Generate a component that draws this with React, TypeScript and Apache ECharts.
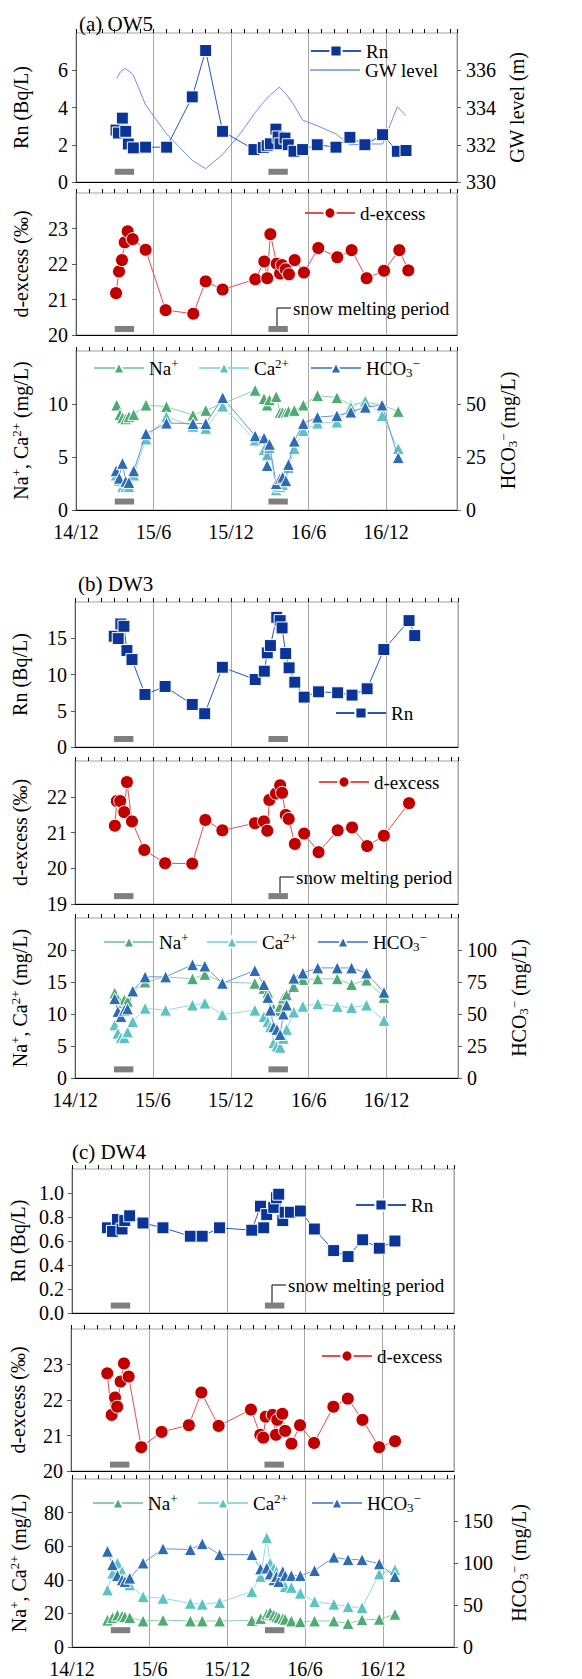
import { useEffect, useRef } from "react";
import * as echarts from "echarts";

const FONT = "Liberation Serif";
const XMAX = 29.5; // months after 2014-12-01

// x = months since 2014-12-01, y = value
const ow5Rn = [[3.1,2.79],[3.28,2.63],[3.59,3.43],[3.85,2.72],[4.05,2.04],[4.44,1.83],[5.39,1.87],[7.02,1.87],[9.0,4.57],[10.04,7.06],[11.35,2.72],[13.78,1.74],[14.5,1.85],[14.8,1.95],[15.05,2.05],[15.48,2.84],[15.65,2.42],[15.8,2.05],[16.18,2.36],[16.44,2.0],[16.88,1.65],[17.55,1.74],[18.68,2.0],[20.13,1.87],[21.21,2.4],[22.37,2.0],[23.74,2.54],[24.88,1.65],[25.55,1.69]];
const ow5Gw = [[3.15,335.56],[3.45,335.92],[3.79,336.1],[4.17,335.92],[4.44,335.74],[5.39,334.14],[5.99,333.56],[7.02,332.58],[9.0,331.16],[10.04,330.71],[11.35,331.48],[12.7,332.58],[13.88,333.73],[14.5,334.27],[14.97,334.62],[15.74,335.1],[16.31,334.68],[16.83,334.18],[17.55,333.32],[18.68,333.02],[20.13,332.58],[21.21,331.99],[22.37,332.04],[23.74,332.04],[24.88,334.04],[25.55,333.56]];
const ow5Dex = [[3.1,21.18],[3.33,21.79],[3.56,22.11],[3.77,22.61],[4.0,22.92],[4.39,22.7],[5.39,22.4],[6.94,20.7],[9.08,20.6],[10.04,21.51],[11.35,21.28],[13.88,21.57],[14.58,22.07],[14.81,21.6],[15.05,22.84],[15.54,22.01],[15.8,21.73],[15.95,21.97],[16.23,21.85],[16.49,21.71],[16.93,22.11],[17.65,21.76],[18.76,22.45],[20.23,22.19],[21.34,22.39],[22.5,21.6],[23.85,21.81],[25.03,22.39],[25.73,21.82]];
const ow5Na = [[3.15,9.9],[3.4,9.0],[3.6,8.7],[3.85,8.6],[4.1,8.8],[4.47,9.0],[5.42,9.9],[7.0,9.75],[9.06,8.95],[10.05,9.4],[13.87,11.3],[14.56,10.5],[14.8,9.9],[14.98,10.4],[15.5,10.7],[15.8,9.2],[16.0,9.2],[16.25,9.2],[16.45,9.3],[16.9,9.4],[17.6,9.9],[18.7,10.8],[20.2,10.6],[21.28,9.9],[22.4,10.2],[23.7,9.9],[24.95,9.3]];
const ow5Ca = [[3.1,3.3],[3.35,2.8],[3.6,2.2],[3.85,2.2],[4.1,2.2],[4.47,3.3],[5.42,6.7],[7.0,8.8],[9.06,7.9],[10.05,7.7],[11.36,9.8],[13.87,6.6],[14.56,5.7],[14.8,5.2],[14.98,5.9],[15.5,1.9],[15.8,2.2],[16.0,2.4],[16.25,2.9],[16.45,4.0],[16.9,5.8],[17.6,7.5],[18.7,8.2],[20.2,8.3],[21.28,9.7],[22.4,10.3],[23.7,8.9],[24.95,5.8]];
const ow5Hco3 = [[3.1,18.5],[3.35,15],[3.6,22],[3.85,13.5],[4.1,13],[4.47,18.5],[5.42,36],[7.0,41],[9.06,40.8],[10.05,40.8],[11.36,53],[13.87,35],[14.56,34],[14.8,21],[14.98,31],[15.5,12.5],[15.8,14.8],[16.0,15.5],[16.25,13.8],[16.45,21.5],[16.9,32.5],[17.6,40.8],[18.7,43.8],[20.2,44.5],[21.28,46.2],[22.4,48.5],[23.7,49.5],[24.95,24.7]];

const dw3Rn = [[3.02,15.28],[3.33,14.95],[3.53,16.97],[3.77,16.65],[4.0,13.3],[4.39,12.06],[5.39,7.25],[6.94,8.35],[9.03,5.87],[9.99,4.59],[11.35,11.0],[13.88,9.31],[14.58,10.46],[14.81,12.98],[15.05,13.99],[15.54,17.89],[15.8,17.43],[15.95,16.42],[16.23,12.89],[16.49,10.92],[16.93,8.94],[17.65,6.88],[18.76,7.61],[20.23,7.48],[21.34,7.16],[22.5,8.03],[23.79,13.44],[25.73,17.43],[26.17,15.37]];
const dw3Dex = [[3.07,21.19],[3.22,21.88],[3.48,21.88],[3.79,21.57],[4.0,22.41],[4.39,21.31],[5.34,20.51],[6.94,20.14],[9.03,20.13],[10.04,21.35],[11.35,21.06],[13.86,21.26],[14.55,21.31],[14.81,21.05],[14.97,21.91],[15.48,22.09],[15.8,22.32],[15.95,22.11],[16.23,21.49],[16.46,21.38],[16.93,20.68],[17.65,20.97],[18.76,20.45],[20.23,21.06],[21.34,21.14],[22.5,20.62],[23.79,20.91],[25.73,21.82]];
const dw3Na = [[3.06,13.3],[3.3,12.3],[3.55,11.8],[3.8,12.2],[4.05,12.0],[4.45,13.5],[5.4,15.0],[6.98,15.8],[9.05,15.5],[10.0,16.2],[11.35,15.0],[13.85,14.8],[14.55,14.0],[14.85,13.4],[15.3,10.8],[15.55,10.5],[15.8,11.2],[16.05,12.5],[16.3,13.0],[16.85,14.3],[17.55,15.4],[18.7,15.5],[20.2,15.5],[21.3,14.6],[22.45,15.3],[23.8,12.6]];
const dw3Ca = [[3.06,8.3],[3.3,7.0],[3.55,6.3],[3.8,6.3],[4.05,7.2],[4.45,8.8],[5.4,10.9],[6.98,10.6],[9.05,11.4],[10.0,11.7],[11.35,9.9],[13.85,10.6],[14.55,9.6],[14.85,8.8],[15.05,8.0],[15.3,5.5],[15.55,5.0],[15.8,4.8],[16.05,6.2],[16.3,7.6],[16.85,10.3],[17.55,11.2],[18.7,11.6],[20.2,11.2],[21.3,11.0],[22.45,11.4],[23.8,9.0]];
const dw3Hco3 = [[3.06,62],[3.3,52],[3.55,48],[3.8,53],[4.05,54],[4.45,68],[5.4,79],[6.98,79],[9.05,88.5],[10.0,87.5],[11.35,74],[13.85,84],[14.55,73],[14.85,63],[15.05,53],[15.3,40],[15.55,38],[15.8,34],[16.05,50],[16.3,57],[16.85,78],[17.55,82],[18.7,86],[20.2,86],[21.3,86],[22.45,82],[23.8,67]];

const dw4Rn = [[2.74,0.71],[3.13,0.68],[3.51,0.78],[3.87,0.7],[4.08,0.77],[4.46,0.81],[5.49,0.75],[7.03,0.71],[9.14,0.64],[10.06,0.64],[11.4,0.71],[13.89,0.69],[14.56,0.89],[14.81,0.71],[15.04,0.82],[15.58,0.88],[15.79,0.96],[15.97,0.99],[16.28,0.77],[16.46,0.84],[16.87,0.84],[17.64,0.85],[18.72,0.7],[20.21,0.52],[21.32,0.47],[22.45,0.61],[23.73,0.54],[24.94,0.6]];
const dw4Dex = [[2.79,22.75],[3.13,21.58],[3.39,22.07],[3.56,21.81],[3.82,22.52],[4.08,23.03],[4.44,22.66],[5.41,20.67],[6.98,21.1],[9.08,21.29],[10.04,22.21],[11.37,21.27],[13.86,21.73],[14.58,21.02],[14.81,20.94],[15.0,21.53],[15.53,21.58],[15.79,21.02],[15.89,21.44],[16.28,21.61],[16.49,21.13],[16.98,20.77],[17.64,21.29],[18.72,20.79],[20.21,21.81],[21.32,22.04],[22.45,21.44],[23.73,20.67],[24.96,20.84]];
const dw4Na = [[2.74,16],[3.13,17.5],[3.51,19],[3.87,18.5],[4.08,18],[4.46,17.5],[5.49,15.5],[7.03,16],[9.14,15.5],[10.06,15.5],[11.4,15.5],[13.89,15.8],[14.56,17],[15.04,19.5],[15.3,20.5],[15.58,19],[15.79,18],[15.97,17.5],[16.28,17],[16.46,16.5],[16.94,15.5],[17.63,15],[18.73,15.5],[20.22,15.5],[21.32,14],[22.4,16.2],[23.73,16.5],[24.94,19.5]];
const dw4Ca = [[2.74,34],[3.13,44],[3.51,50],[3.87,45],[4.08,40],[4.46,37],[5.49,30],[7.03,29],[9.14,26],[10.06,25.5],[11.4,26.5],[13.89,33],[14.56,42],[15.04,65],[15.3,50],[15.58,47],[15.79,45],[15.97,42],[16.28,40],[16.46,36],[16.94,35.5],[17.63,32],[18.73,27],[20.22,25.5],[21.32,24],[22.4,23.5],[23.73,43.5],[24.94,46]];
const dw4Hco3 = [[2.74,114],[3.13,98],[3.51,85],[3.87,80],[4.08,78],[4.46,82],[5.49,100],[7.03,117],[9.14,116],[10.06,123],[11.4,110],[13.89,110],[14.56,93],[15.04,94],[15.3,87],[15.58,80],[15.79,84],[15.97,78],[16.28,90],[16.46,85],[16.94,85],[17.63,85],[18.73,91],[20.22,107],[21.32,104],[22.4,104],[23.73,99],[24.94,84]];

const snowPeriods = [[3.0, 4.5], [14.9, 16.4]];
const monthLabel = (v: number) => {
  const t = 2014 * 12 + 11 + Math.round(v);
  return `${Math.floor(t / 12) % 100}/${(t % 12) + 1}`;
};

const STYLES: Record<string, any> = {
  rn: { symbol: "rect", size: 12, color: "#0a3597", line: "#2a55b8" },
  gw: { symbol: "none", size: 0, color: "#6d8fe6", line: "#6d8fe6" },
  dex: { symbol: "circle", size: 13, color: "#c00000", line: "#e05050" },
  na: { symbol: "triangle", size: 12, color: "#4eab73", line: "#8fd0a8" },
  ca: { symbol: "triangle", size: 12, color: "#5cc2c4", line: "#96dadb" },
  hco3: { symbol: "triangle", size: 12, color: "#2e6bb3", line: "#6a93cf" },
};

const mkRich = (fs: number) => ({
  t: { fontSize: fs, fontFamily: FONT, color: "#000", lineHeight: 22 },
  sup: { fontSize: 13, fontFamily: FONT, color: "#000", lineHeight: 13, verticalAlign: "top" },
  sub: { fontSize: 13, fontFamily: FONT, color: "#000", lineHeight: 13, verticalAlign: "bottom" },
});
const RICH: any = mkRich(20);
const LEG_RICH: any = mkRich(19);
const ION_NAME = "{t|Na}{sup|+}{t|, Ca}{sup|2+}{t| (mg/L)}";
const HCO3_NAME = "{t|HCO}{sub|3}{sup|−}{t| (mg/L)}";
const LEGEND_TEXT: Record<string, string> = {
  Rn: "{t|Rn}", "GW level": "{t|GW level}", "d-excess": "{t|d-excess}",
  Na: "{t|Na}{sup|+}", Ca: "{t|Ca}{sup|2+}", HCO3: "{t|HCO}{sub|3}{sup|−}",
};

type S = { name: string; kind: string; data: number[][]; right?: boolean };
type P = {
  L: number; R: number; T: number; B: number; min: number; max: number; step: number; dec?: number;
  name: string; gap: number; xLabels: boolean; snowY: number;
  right?: { min: number; max: number; step: number; name: string; gap: number };
  series: S[];
};

const panels: P[] = [
  { L: 76, R: 457, T: 33, B: 182, min: 0, max: 8, step: 2, name: "{t|Rn (Bq/L)}", gap: 44, xLabels: false, snowY: 0.55,
    right: { min: 330, max: 338, step: 2, name: "{t|GW level (m)}", gap: 42 },
    series: [{ name: "GW level", kind: "gw", data: ow5Gw, right: true }, { name: "Rn", kind: "rn", data: ow5Rn }] },
  { L: 76, R: 457, T: 193, B: 335, min: 20, max: 24, step: 1, name: "{t|d-excess (‰)}", gap: 44, xLabels: false, snowY: 20.17,
    series: [{ name: "d-excess", kind: "dex", data: ow5Dex }] },
  { L: 76, R: 457, T: 351, B: 510, min: 0, max: 15, step: 5, name: ION_NAME, gap: 44, xLabels: true, snowY: 0.8,
    right: { min: 0, max: 75, step: 25, name: HCO3_NAME, gap: 38 },
    series: [{ name: "Na", kind: "na", data: ow5Na }, { name: "Ca", kind: "ca", data: ow5Ca }, { name: "HCO3", kind: "hco3", data: ow5Hco3, right: true }] },
  { L: 75, R: 458, T: 602, B: 747, min: 0, max: 20, step: 5, name: "{t|Rn (Bq/L)}", gap: 44, xLabels: false, snowY: 1.1,
    series: [{ name: "Rn", kind: "rn", data: dw3Rn }] },
  { L: 75, R: 458, T: 761, B: 904, min: 19, max: 23, step: 1, name: "{t|d-excess (‰)}", gap: 44, xLabels: false, snowY: 19.22,
    series: [{ name: "d-excess", kind: "dex", data: dw3Dex }] },
  { L: 75, R: 458, T: 918, B: 1078, min: 0, max: 25, step: 5, name: ION_NAME, gap: 44, xLabels: true, snowY: 1.35,
    right: { min: 0, max: 125, step: 25, name: HCO3_NAME, gap: 46 },
    series: [{ name: "Na", kind: "na", data: dw3Na }, { name: "Ca", kind: "ca", data: dw3Ca }, { name: "HCO3", kind: "hco3", data: dw3Hco3, right: true }] },
  { L: 71, R: 454, T: 1169, B: 1313, min: 0, max: 1.2, step: 0.2, dec: 1, name: "{t|Rn (Bq/L)}", gap: 42, xLabels: false, snowY: 0.062,
    series: [{ name: "Rn", kind: "rn", data: dw4Rn }] },
  { L: 71, R: 454, T: 1329, B: 1471, min: 20, max: 24, step: 1, name: "{t|d-excess (‰)}", gap: 42, xLabels: false, snowY: 20.18,
    series: [{ name: "d-excess", kind: "dex", data: dw4Dex }] },
  { L: 71, R: 454, T: 1479, B: 1652, min: 0, max: 100, step: 20, name: ION_NAME, gap: 42, xLabels: true, snowY: 10,
    right: { min: 0, max: 200, step: 50, name: HCO3_NAME, gap: 54 },
    series: [{ name: "Na", kind: "na", data: dw4Na }, { name: "Ca", kind: "ca", data: dw4Ca }, { name: "HCO3", kind: "hco3", data: dw4Hco3, right: true }] },
];

// legend item placement: icon left x, row centre y
const legends = [
  { name: "Rn", x: 310, y: 51 }, { name: "GW level", x: 310, y: 70, icon: "rect" },
  { name: "d-excess", x: 304, y: 213 },
  { name: "Na", x: 93, y: 368 }, { name: "Ca", x: 198, y: 368 }, { name: "HCO3", x: 310, y: 368 },
  { name: "Rn", x: 335, y: 713 },
  { name: "d-excess", x: 318, y: 782 },
  { name: "Na", x: 103, y: 942 }, { name: "Ca", x: 206, y: 942 }, { name: "HCO3", x: 317, y: 942 },
  { name: "Rn", x: 355, y: 1205 },
  { name: "d-excess", x: 321, y: 1356 },
  { name: "Na", x: 92, y: 1503 }, { name: "Ca", x: 197, y: 1503 }, { name: "HCO3", x: 311, y: 1503 },
];

const titles = [
  { text: "(a) OW5", x: 79, y: 24 },
  { text: "(b) DW3", x: 78, y: 584 },
  { text: "(c) DW4", x: 72, y: 1152 },
];
const snowNotes = [
  { x: 277, y0: 326, y1: 308 },
  { x: 280, y0: 893, y1: 877 },
  { x: 272, y0: 1303, y1: 1285 },
];

function buildOption() {
  const grid: any[] = [], xAxis: any[] = [], yAxis: any[] = [], series: any[] = [];
  const labelStyle = { fontSize: 20, fontFamily: FONT, color: "#000" };
  panels.forEach((p, i) => {
    grid.push({ left: p.L, top: p.T, width: p.R - p.L, height: p.B - p.T, show: true, borderColor: "#a0a0a0", borderWidth: 1 });
    const xa = xAxis.length;
    xAxis.push({
      type: "value", gridIndex: i, min: 0, max: XMAX, interval: 6,
      axisLine: { show: true, onZero: false, lineStyle: { color: "#000", width: 1 } },
      axisTick: { show: false },
      splitLine: { show: true, lineStyle: { color: "#a6a6a6", width: 1 } },
      axisLabel: { show: p.xLabels, formatter: monthLabel, showMaxLabel: false, margin: 12, ...labelStyle },
    });
    xAxis.push({
      type: "value", gridIndex: i, min: 0, max: XMAX, interval: 1,
      axisLine: { show: false, onZero: false }, axisTick: { show: true, length: 4, lineStyle: { color: "#000" } },
      splitLine: { show: false }, axisLabel: { show: false },
    });
    const ya = yAxis.length;
    yAxis.push({
      type: "value", gridIndex: i, position: "left", min: p.min, max: p.max, interval: p.step,
      axisLine: { show: true, onZero: false, lineStyle: { color: "#595959" } },
      axisTick: { show: true, length: 4, lineStyle: { color: "#595959" } },
      splitLine: { show: false },
      axisLabel: { showMaxLabel: false, margin: 8, formatter: (v: number) => (p.dec ? v.toFixed(p.dec) : String(Math.round(v))), ...labelStyle },
      name: p.name, nameLocation: "middle", nameGap: p.gap, nameRotate: 90,
      nameTextStyle: { ...labelStyle, rich: RICH },
    });
    let yr = ya;
    if (p.right) {
      yr = yAxis.length;
      yAxis.push({
        type: "value", gridIndex: i, position: "right", min: p.right.min, max: p.right.max, interval: p.right.step,
        axisLine: { show: true, onZero: false, lineStyle: { color: "#8c8c8c" } },
        axisTick: { show: true, length: 4, lineStyle: { color: "#595959" } },
        splitLine: { show: false },
        axisLabel: { showMaxLabel: false, margin: 9, ...labelStyle },
        name: p.right.name, nameLocation: "middle", nameGap: p.right.gap, nameRotate: 90,
        nameTextStyle: { ...labelStyle, rich: RICH },
      });
    }
    snowPeriods.forEach(([a, b]) => {
      series.push({
        type: "line", xAxisIndex: xa, yAxisIndex: ya, data: [[a, p.snowY], [b, p.snowY]], symbol: "none", silent: true,
        lineStyle: { color: "#7f7f7f", width: 6, cap: "butt" }, z: 1,
      });
    });
    p.series.forEach((s, k) => {
      const st = STYLES[s.kind];
      series.push({
        type: "line", name: s.name, xAxisIndex: xa, yAxisIndex: s.right ? yr : ya, data: s.data,
        symbol: st.symbol, symbolSize: st.size, showSymbol: st.symbol !== "none",
        lineStyle: { color: st.line, width: 1 },
        itemStyle: { color: st.color, borderColor: "#fff", borderWidth: st.symbol === "none" ? 0 : 1 },
        emphasis: { disabled: true }, z: 2 + k,
      });
    });
  });

  const legend = legends.map((l) => ({
    left: l.x, top: l.y - 11, padding: 0, itemWidth: 50, itemHeight: l.icon ? 1.5 : 14, itemGap: 0,
    selectedMode: false,
    data: [l.icon ? { name: l.name, icon: l.icon } : l.name],
    formatter: (n: string) => LEGEND_TEXT[n] || n,
    textStyle: { fontSize: 19, fontFamily: FONT, color: "#000", lineHeight: 22, rich: LEG_RICH },
  }));

  const graphic: any[] = [];
  titles.forEach((t) => graphic.push({ type: "text", x: t.x, y: t.y, style: { text: t.text, fontSize: 21, fontFamily: FONT, fill: "#000", verticalAlign: "middle" } }));
  snowNotes.forEach((s) => {
    graphic.push({ type: "polyline", shape: { points: [[s.x, s.y0], [s.x, s.y1], [s.x + 14, s.y1]] }, style: { stroke: "#000", lineWidth: 1, fill: null } });
    graphic.push({ type: "text", x: s.x + 16, y: s.y1, style: { text: "snow melting period", fontSize: 19, fontFamily: FONT, fill: "#000", verticalAlign: "middle" } });
  });

  return { animation: false, backgroundColor: "#fff", grid, xAxis, yAxis, series, legend, graphic };
}

export default function App() {
  const ref = useRef<HTMLDivElement>(null);
  useEffect(() => {
    const chart = echarts.init(ref.current!, null, { renderer: "svg" });
    chart.setOption(buildOption());
    return () => chart.dispose();
  }, []);
  return <div ref={ref} style={{ position: "absolute", left: 0, top: 0, width: 582, height: 1679 }} />;
}
